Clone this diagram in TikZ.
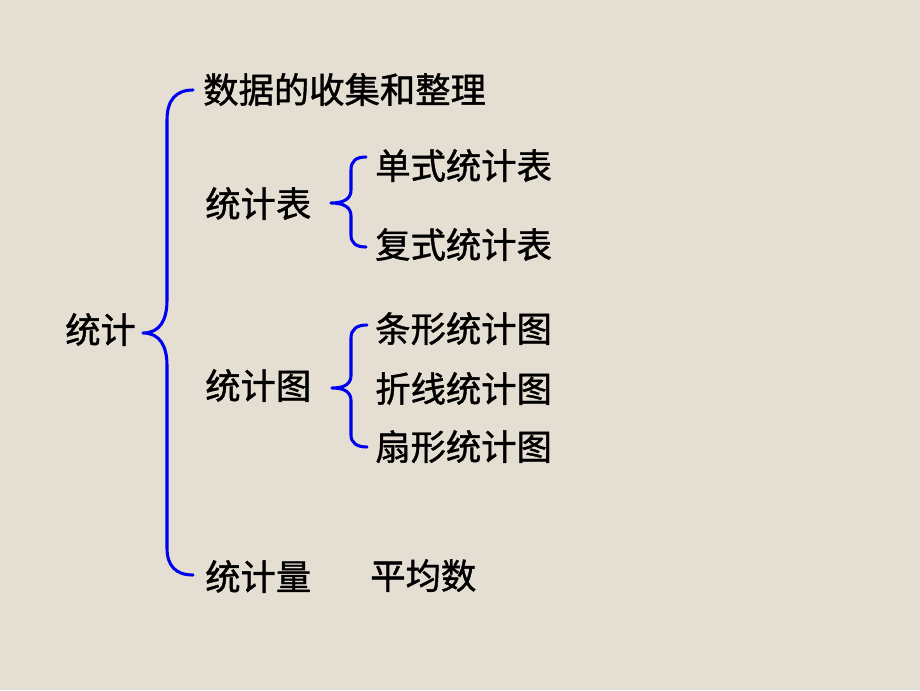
\documentclass[tikz,border=0pt]{standalone}
\usepackage{fontspec}
\newfontfamily\cjk[FakeBold=1.2]{Noto Sans CJK SC}
\definecolor{bg}{HTML}{E5DED2}
\definecolor{brace}{HTML}{0000F0}
\tikzset{
  lbl/.style={anchor=base west, inner sep=0pt, font=\cjk\fontsize{26.5}{30}\selectfont, text=black},
  brc/.style={draw=brace, line width=2.3pt, line cap=round, line join=round}
}
\begin{document}
\begin{tikzpicture}[x=0.75pt,y=-0.75pt]
\fill[bg] (0,0) rectangle (920,690);
\useasboundingbox (0,0) rectangle (920,690);
% labels (baseline = visual centre + 12)
\node[lbl] (root) at (65,343) {统计};
\node[lbl] (collect) at (203,103) {数据的收集和整理};
\node[lbl] (table) at (205,217) {统计表};
\node[lbl] (single) at (375,179) {单式统计表};
\node[lbl] (multi) at (375,258) {复式统计表};
\node[lbl] (chart) at (205,399) {统计图};
\node[lbl] (bar) at (375,342) {条形统计图};
\node[lbl] (line) at (375,402) {折线统计图};
\node[lbl] (pie) at (375,460) {扇形统计图};
\node[lbl] (qty) at (205,590) {统计量};
\node[lbl] (avg) at (370,589) {平均数};
% big brace
\draw[brc] (193,90) .. controls (176,90) and (167,100) .. (167,120)
  -- (167,300) .. controls (167,320) and (160,333) .. (143,333)
  .. controls (160,333) and (167,346) .. (167,366)
  -- (167,548) .. controls (167,566) and (176,575) .. (193,575);
% brace for 统计表
\draw[brc] (366,157) .. controls (356,157) and (351,161) .. (351,170)
  -- (351,190) .. controls (351,198) and (345,203) .. (331,203)
  .. controls (345,203) and (351,208) .. (351,216)
  -- (351,235) .. controls (351,243) and (356,247) .. (366,247);
% brace for 统计图
\draw[brc] (367,325) .. controls (357,325) and (351,329) .. (351,338)
  -- (351,375) .. controls (351,383) and (346,388) .. (332,388)
  .. controls (346,388) and (351,393) .. (351,401)
  -- (351,435) .. controls (351,443) and (357,447) .. (367,447);
\end{tikzpicture}
\end{document}
